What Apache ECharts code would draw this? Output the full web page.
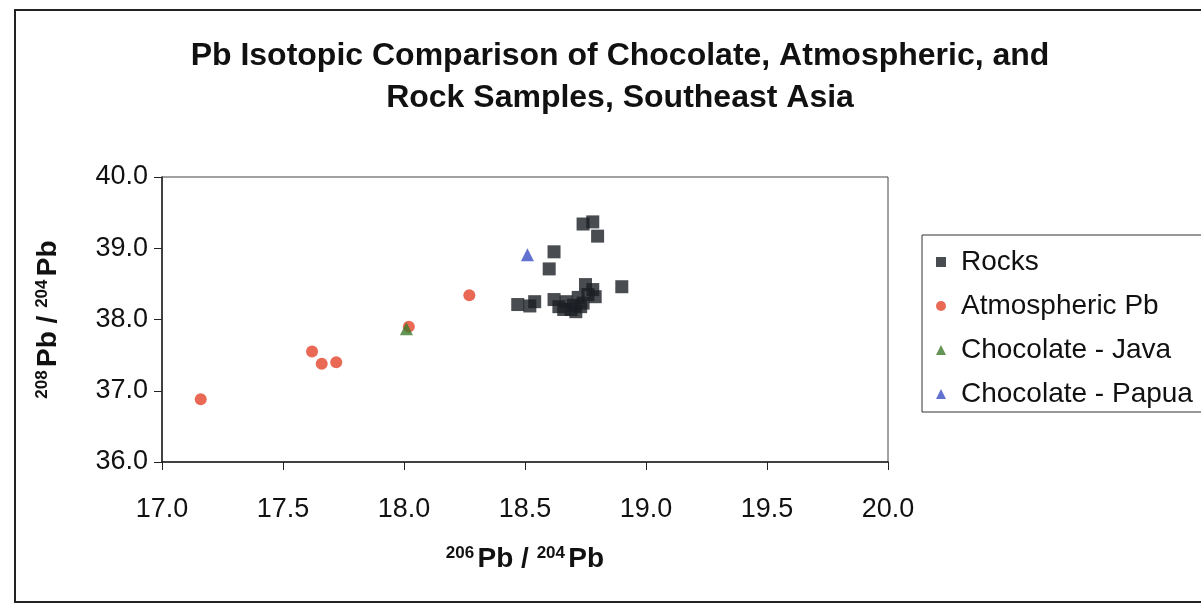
<!DOCTYPE html>
<html>
<head>
  <meta charset="utf-8" />
  <title>Pb Isotopic Comparison</title>
  <script src="https://cdn.jsdelivr.net/npm/echarts@6/dist/echarts.min.js"></script>
  <style>
    html, body { margin: 0; padding: 0; background: #fff; }
    #chart { width: 1201px; height: 606px; }
  </style>
</head>
<body>
  <div id="chart"></div>
  <script>
    // 206Pb/204Pb , 208Pb/204Pb
    const rocks = [
      [18.74, 39.34], [18.78, 39.37], [18.80, 39.17], [18.62, 38.95], [18.60, 38.71],
      [18.90, 38.46], [18.47, 38.21], [18.52, 38.19], [18.54, 38.25], [18.62, 38.28],
      [18.64, 38.18], [18.67, 38.25], [18.69, 38.14], [18.72, 38.31], [18.75, 38.49],
      [18.78, 38.42], [18.79, 38.32], [18.74, 38.23], [18.71, 38.11], [18.66, 38.14],
      [18.76, 38.35], [18.70, 38.20], [18.73, 38.18]
    ]
    const atmospheric = [
      [17.16, 36.88], [17.62, 37.55], [17.66, 37.38], [17.72, 37.40], [18.02, 37.90], [18.27, 38.34]
    ]
    const java = [[18.01, 37.87]]
    const papua = [[18.51, 38.91]]

    const xTicks = [17.0, 20.0, 0.5] // min, max, step
    const yTicks = [36.0, 40.0, 1.0]

    const font = "Liberation Sans, Arial, sans-serif"
    const axisRich = {
      sup: { fontFamily: font, fontSize: 17, fontWeight: "bold", color: "#111", verticalAlign: "top" },
      b: { fontFamily: font, fontSize: 28, fontWeight: "bold", color: "#111" }
    }

    let chart = echarts.init(document.getElementById("chart"))
    let option = {
      backgroundColor: "#fff",
      animation: false,
      title: {
        text: "Pb Isotopic Comparison of Chocolate, Atmospheric, and\nRock Samples, Southeast Asia",
        left: 615,
        textAlign: "center",
        top: 30,
        textStyle: { fontFamily: font, fontSize: 32, fontWeight: "bold", color: "#111", lineHeight: 42 }
      },
      graphic: [
        {
          type: "rect",
          shape: { x: 15, y: 10, width: 1220, height: 592 },
          style: { fill: null, stroke: "#222", lineWidth: 2 },
          silent: true
        }
      ],
      legend: {
        orient: "vertical",
        left: 922,
        top: 235,
        padding: [13, 60, 4, 14],
        itemGap: 16,
        itemWidth: 10,
        itemHeight: 10,
        borderColor: "#333",
        borderWidth: 1,
        textStyle: { fontFamily: font, fontSize: 28, color: "#111", padding: [0, 0, 0, 10] },
        data: ["Rocks", "Atmospheric Pb", "Chocolate - Java", "Chocolate - Papua"]
      },
      grid: {
        left: 162, top: 177, right: 313, bottom: 144,
        show: true, borderColor: "#444", borderWidth: 1
      },
      xAxis: {
        type: "value",
        min: xTicks[0], max: xTicks[1], interval: xTicks[2],
        name: "{sup|206} {b|Pb / }{sup|204} {b|Pb}",
        nameLocation: "middle",
        nameGap: 83,
        nameTextStyle: { rich: axisRich },
        axisLine: { lineStyle: { color: "#222", width: 1.5 } },
        axisTick: { inside: false, length: 8, lineStyle: { color: "#222" } },
        splitLine: { show: false },
        axisLabel: {
          margin: 34, fontFamily: font, fontSize: 27, color: "#111",
          formatter: (v) => v.toFixed(1)
        }
      },
      yAxis: {
        type: "value",
        min: yTicks[0], max: yTicks[1], interval: yTicks[2],
        name: "{sup|208} {b|Pb / }{sup|204} {b|Pb}",
        nameLocation: "middle",
        nameRotate: 90,
        nameGap: 100,
        nameTextStyle: { rich: axisRich },
        axisLine: { show: true, lineStyle: { color: "#222", width: 1.5 } },
        axisTick: { show: true, inside: false, length: 8, lineStyle: { color: "#222" } },
        splitLine: { show: false },
        axisLabel: {
          margin: 14, fontFamily: font, fontSize: 27, color: "#111",
          formatter: (v) => v.toFixed(1)
        }
      },
      series: [
        {
          name: "Rocks", type: "scatter", symbol: "rect", symbolSize: 13,
          itemStyle: { color: "#1c1f24" }, data: rocks
        },
        {
          name: "Atmospheric Pb", type: "scatter", symbol: "circle", symbolSize: 12,
          itemStyle: { color: "#e4442b" }, data: atmospheric
        },
        {
          name: "Chocolate - Java", type: "scatter", symbol: "triangle", symbolSize: 13,
          itemStyle: { color: "#3d7a2a" }, data: java
        },
        {
          name: "Chocolate - Papua", type: "scatter", symbol: "triangle", symbolSize: 13,
          itemStyle: { color: "#3a4fc4" }, data: papua
        }
      ]
    }
    chart.setOption(option)
  </script>
</body>
</html>
